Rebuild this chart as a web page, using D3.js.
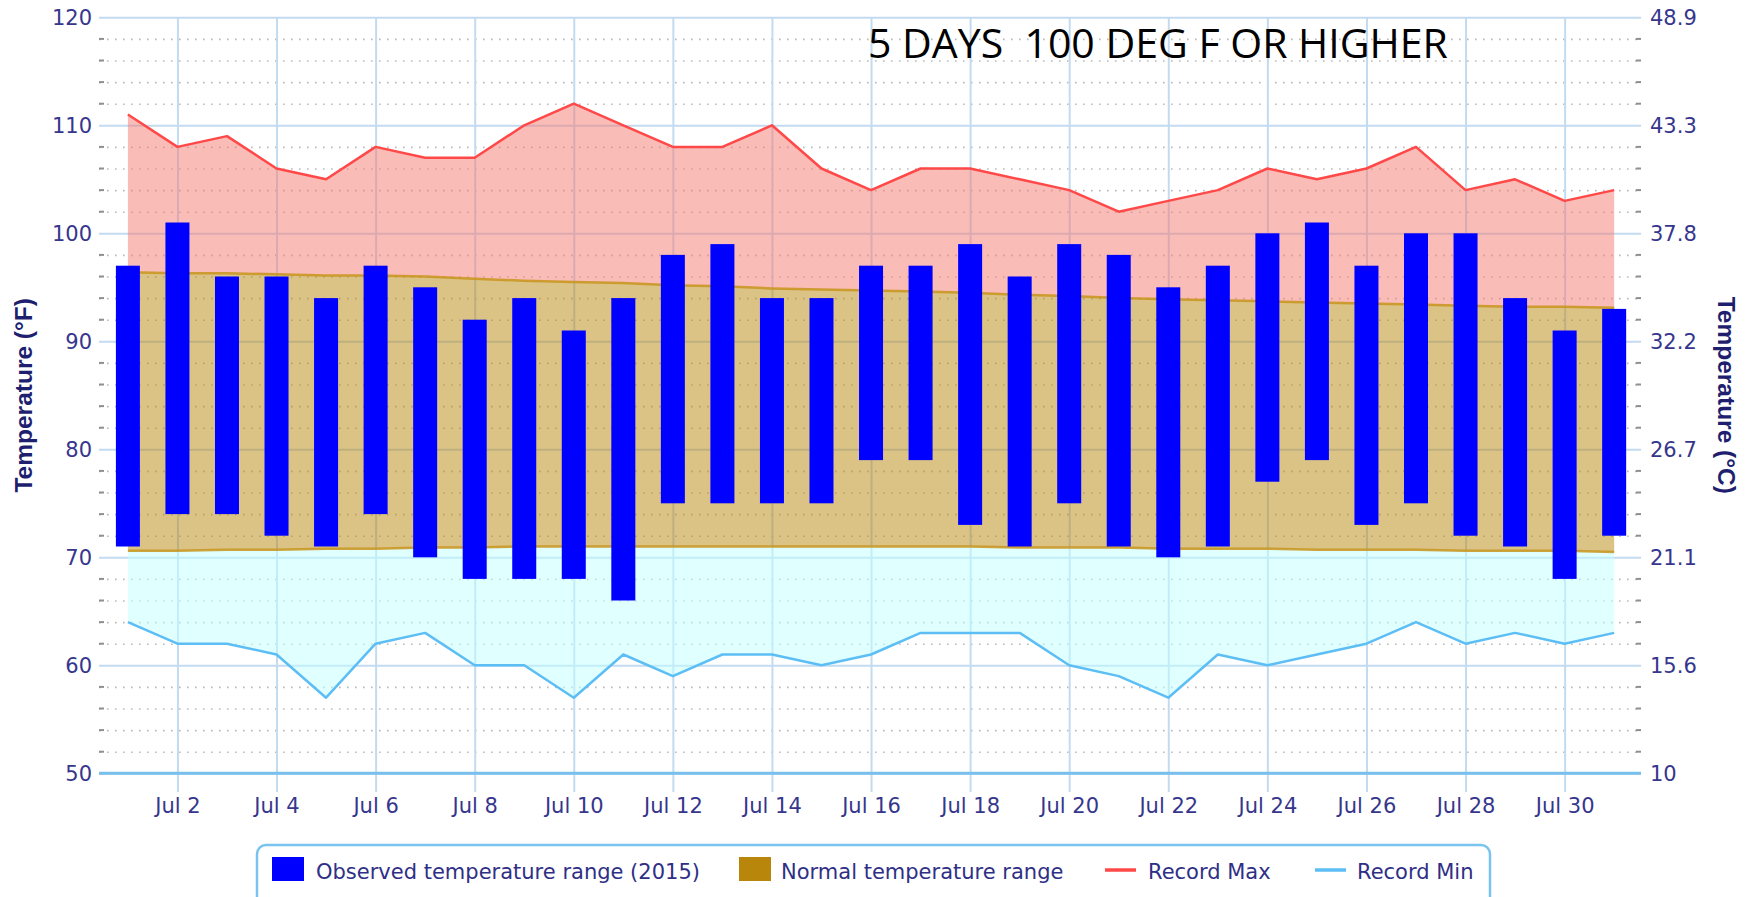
<!DOCTYPE html>
<html>
<head>
<meta charset="utf-8">
<script src="https://cdn.jsdelivr.net/npm/d3@7"></script>
<style>
  html, body { margin: 0; padding: 0; background: #ffffff; }
  svg { display: block; }
</style>
</head>
<body>
<svg id="chart" width="1750" height="897"></svg>
<script>
// ---------------- DATA ----------------
const dates = [
  "2015-07-01","2015-07-02","2015-07-03","2015-07-04","2015-07-05","2015-07-06","2015-07-07","2015-07-08",
  "2015-07-09","2015-07-10","2015-07-11","2015-07-12","2015-07-13","2015-07-14","2015-07-15","2015-07-16",
  "2015-07-17","2015-07-18","2015-07-19","2015-07-20","2015-07-21","2015-07-22","2015-07-23","2015-07-24",
  "2015-07-25","2015-07-26","2015-07-27","2015-07-28","2015-07-29","2015-07-30","2015-07-31"
];
const observedLow  = [71,74,74,72,71,74,70,68,68,68,66,75,75,75,75,79,79,73,71,75,71,70,71,77,79,73,75,72,71,68,72];
const observedHigh = [97,101,96,96,94,97,95,92,94,91,94,98,99,94,94,97,97,99,96,99,98,95,97,100,101,97,100,100,94,91,93];
const normalHigh = [96.4,96.3,96.3,96.2,96.1,96.1,96.0,95.8,95.6,95.5,95.4,95.2,95.1,94.9,94.8,94.7,
                    94.6,94.5,94.3,94.2,94.0,93.9,93.8,93.7,93.6,93.5,93.4,93.3,93.2,93.2,93.1];
const normalLow  = [70.6,70.6,70.7,70.7,70.8,70.8,70.9,70.9,71.0,71.0,71.0,71.0,71.0,71.0,71.0,71.0,
                    71.0,71.0,70.9,70.9,70.9,70.8,70.8,70.8,70.7,70.7,70.7,70.6,70.6,70.6,70.5];
const recordMax = [111,108,109,106,105,108,107,107,110,112,110,108,108,110,106,104,106,106,105,104,102,103,104,106,105,106,108,104,105,103,104];
const recordMin = [64,62,62,61,57,62,63,60,60,57,61,59,61,61,60,61,63,63,63,60,59,57,61,60,61,62,64,62,63,62,63];

const xTickDates = ["2015-07-02","2015-07-04","2015-07-06","2015-07-08","2015-07-10","2015-07-12","2015-07-14",
                    "2015-07-16","2015-07-18","2015-07-20","2015-07-22","2015-07-24","2015-07-26","2015-07-28","2015-07-30"];
const leftTicks  = [50,60,70,80,90,100,110,120];
const rightTickLabels = ["10","15.6","21.1","26.7","32.2","37.8","43.3","48.9"];
const minorTicks = [52,54,56,58,62,64,66,68,72,74,76,78,82,84,86,88,92,94,96,98,102,104,106,108,112,114,116,118];

const titleText = "5 DAYS  100 DEG F OR HIGHER";
const leftTitle = "Temperature (°F)";
const rightTitle = "Temperature (°C)";
const legendLabels = ["Observed temperature range (2015)", "Normal temperature range", "Record Max", "Record Min"];

// ---------------- LAYOUT ----------------
const L = 99, R = 1641, T = 17.3, B = 773.3;
const parse = d3.timeParse("%Y-%m-%d");
const dd = dates.map(parse);
const rows = dd.map((d, i) => ({
  d, lo: observedLow[i], hi: observedHigh[i], nh: normalHigh[i], nl: normalLow[i], rmax: recordMax[i], rmin: recordMin[i]
}));

const x = d3.scaleTime()
  .domain([d3.timeHour.offset(dd[0], -13.3), d3.timeHour.offset(dd[dd.length - 1], 13.3)])
  .range([L, R]);
const y = d3.scaleLinear().domain([50, 120]).range([B, T]);

const svg = d3.select("#chart");
const tickFont = "'DejaVu Sans', Verdana, sans-serif";
const tickColor = "#36368c";

// minor dotted grid
const gMinor = svg.append("g").attr("transform", `translate(${L},0)`)
  .call(d3.axisLeft(y).tickValues(minorTicks).tickSize(-(R - L)).tickFormat(""));
gMinor.select(".domain").remove();
gMinor.selectAll("line").attr("stroke", "#b9b9b9").attr("stroke-width", 1.6).attr("stroke-dasharray", "1.6,6.4");

// major horizontal grid + left labels
const gLeft = svg.append("g").attr("transform", `translate(${L},0)`)
  .call(d3.axisLeft(y).tickValues(leftTicks).tickSize(-(R - L)).tickPadding(7).tickFormat(d3.format("d")));
gLeft.select(".domain").remove();
gLeft.selectAll("line").attr("stroke", "#c3dbf0").attr("stroke-width", 2);
gLeft.selectAll("text").attr("font-family", tickFont).attr("font-size", 21).attr("fill", tickColor);

// right labels
const gRight = svg.append("g").attr("transform", `translate(${R},0)`)
  .call(d3.axisRight(y).tickValues(leftTicks).tickSize(0).tickPadding(9)
    .tickFormat((v, i) => rightTickLabels[i]));
gRight.select(".domain").remove();
gRight.selectAll("text").attr("font-family", tickFont).attr("font-size", 21).attr("fill", tickColor);

// vertical grid + x labels
const xBase = 792;
const gX = svg.append("g").attr("transform", `translate(0,${xBase})`)
  .call(d3.axisBottom(x).tickValues(xTickDates.map(parse)).tickSize(-(xBase - T)).tickFormat(d3.timeFormat("%b %-d")));
gX.select(".domain").remove();
gX.selectAll("line").attr("stroke", "#c3dbf0").attr("stroke-width", 2);
gX.selectAll("text").attr("font-family", tickFont).attr("font-size", 21).attr("fill", tickColor)
  .attr("dy", null).attr("y", 21);

// areas
const areaMax = d3.area().x(r => x(r.d)).y0(r => y(r.nh)).y1(r => y(r.rmax));
const areaNorm = d3.area().x(r => x(r.d)).y0(r => y(r.nl)).y1(r => y(r.nh));
const areaMin = d3.area().x(r => x(r.d)).y0(r => y(r.rmin)).y1(r => y(r.nl));
svg.append("path").datum(rows).attr("d", areaMax).attr("fill", "#f47a70").attr("fill-opacity", 0.5);
svg.append("path").datum(rows).attr("d", areaNorm).attr("fill", "#b8860b").attr("fill-opacity", 0.5);
svg.append("path").datum(rows).attr("d", areaMin).attr("fill", "#c2ffff").attr("fill-opacity", 0.5);

// normal range boundary lines
const lineNH = d3.line().x(r => x(r.d)).y(r => y(r.nh));
const lineNL = d3.line().x(r => x(r.d)).y(r => y(r.nl));
svg.append("path").datum(rows).attr("d", lineNH).attr("fill", "none").attr("stroke", "#c8941c").attr("stroke-width", 2.5).attr("stroke-opacity", 0.85);
svg.append("path").datum(rows).attr("d", lineNL).attr("fill", "none").attr("stroke", "#c8941c").attr("stroke-width", 2.5).attr("stroke-opacity", 0.85);

// record lines
const lineMax = d3.line().x(r => x(r.d)).y(r => y(r.rmax));
const lineMin = d3.line().x(r => x(r.d)).y(r => y(r.rmin));
svg.append("path").datum(rows).attr("d", lineMax).attr("fill", "none").attr("stroke", "#ff4848").attr("stroke-width", 2.5).attr("stroke-linejoin", "round");
svg.append("path").datum(rows).attr("d", lineMin).attr("fill", "none").attr("stroke", "#5cbef5").attr("stroke-width", 2.5).attr("stroke-linejoin", "round");

// x-axis baseline
svg.append("line").attr("x1", L).attr("x2", R).attr("y1", y(50)).attr("y2", y(50))
  .attr("stroke", "#78bfec").attr("stroke-width", 3);

// minor tick dashes at left and right edges
const edgeTicks = svg.append("g");
[L, R - 5].forEach(x0 => {
  edgeTicks.selectAll(null).data(minorTicks).enter().append("line")
    .attr("x1", x0).attr("x2", x0 + 5).attr("y1", v => y(v)).attr("y2", v => y(v))
    .attr("stroke", "#8f8f8f").attr("stroke-width", 2);
});

// observed bars
const barW = 24;
svg.append("g").selectAll("rect").data(rows).enter().append("rect")
  .attr("x", r => x(r.d) - barW / 2).attr("width", barW)
  .attr("y", r => y(r.hi)).attr("height", r => y(r.lo) - y(r.hi))
  .attr("fill", "#0000ff");

// title
svg.append("text").attr("x", 868).attr("y", 58)
  .attr("font-family", "'Open Sans', 'Liberation Sans', sans-serif").attr("font-size", 41)
  .attr("fill", "#000").style("white-space", "pre").text(titleText);

// axis titles
const axisTitleFont = "'Liberation Sans', Arial, sans-serif";
svg.append("text").attr("transform", `translate(23,${(T + B) / 2}) rotate(-90)`)
  .attr("text-anchor", "middle").attr("dominant-baseline", "central")
  .attr("font-family", axisTitleFont).attr("font-weight", "bold").attr("font-size", 24.5)
  .attr("fill", "#1f1f70").text(leftTitle);
svg.append("text").attr("transform", `translate(1726,${(T + B) / 2}) rotate(90)`)
  .attr("text-anchor", "middle").attr("dominant-baseline", "central")
  .attr("font-family", axisTitleFont).attr("font-weight", "bold").attr("font-size", 24.5)
  .attr("fill", "#1f1f70").text(rightTitle);

// legend
const lg = svg.append("g");
lg.append("rect").attr("x", 257).attr("y", 845).attr("width", 1233).attr("height", 70).attr("rx", 9)
  .attr("fill", "#fff").attr("stroke", "#79c4ef").attr("stroke-width", 2.5);
const legendTextAttrs = sel => sel.attr("font-family", tickFont).attr("font-size", 21).attr("fill", "#2f2f86");
lg.append("rect").attr("x", 272).attr("y", 857).attr("width", 32).attr("height", 24).attr("fill", "#0000ff");
lg.append("text").attr("x", 316).attr("y", 879).call(legendTextAttrs).text(legendLabels[0]);
lg.append("rect").attr("x", 739).attr("y", 857).attr("width", 32).attr("height", 24).attr("fill", "#b8860b");
lg.append("text").attr("x", 781).attr("y", 879).call(legendTextAttrs).text(legendLabels[1]);
lg.append("line").attr("x1", 1105).attr("x2", 1136).attr("y1", 870).attr("y2", 870).attr("stroke", "#ff4848").attr("stroke-width", 3.5);
lg.append("text").attr("x", 1148).attr("y", 879).call(legendTextAttrs).text(legendLabels[2]);
lg.append("line").attr("x1", 1315).attr("x2", 1346).attr("y1", 870).attr("y2", 870).attr("stroke", "#5cbef5").attr("stroke-width", 3.5);
lg.append("text").attr("x", 1357).attr("y", 879).call(legendTextAttrs).text(legendLabels[3]);
</script>
</body>
</html>
